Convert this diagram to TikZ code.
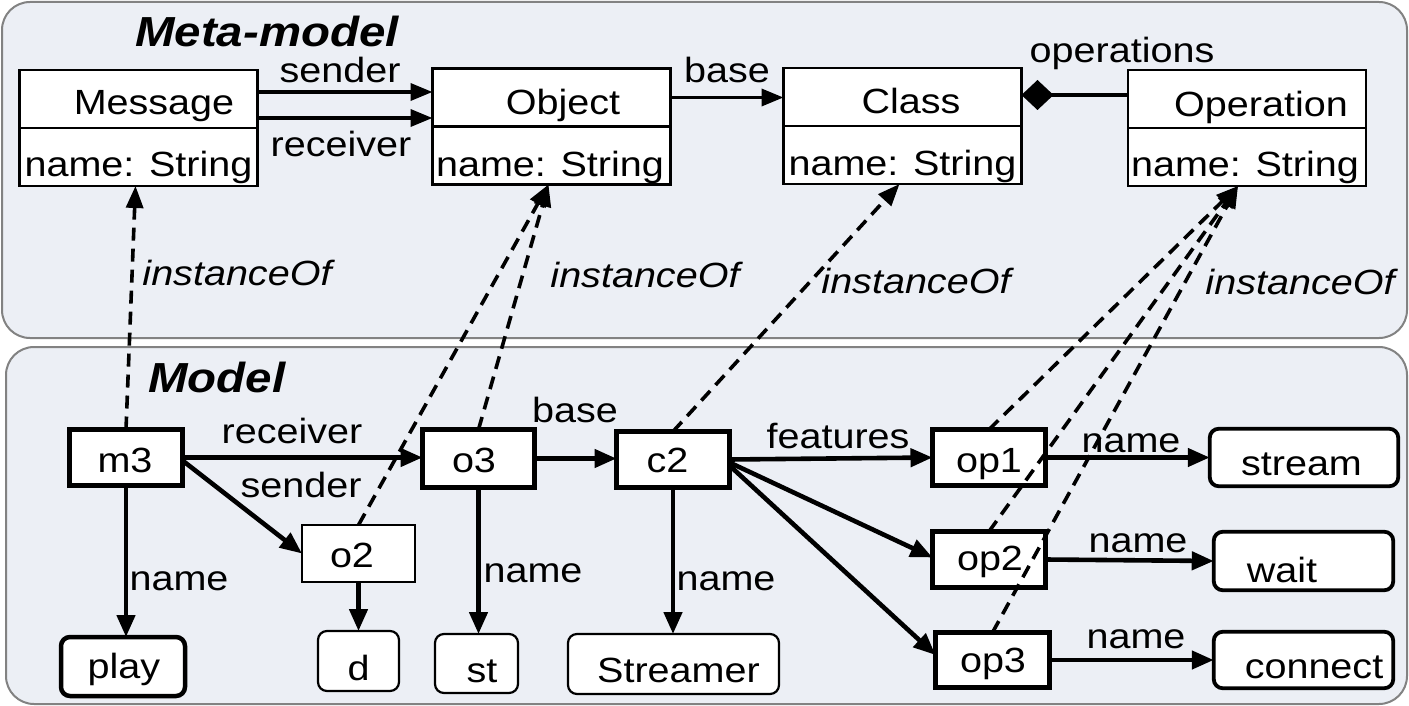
\documentclass[tikz,border=0pt]{standalone}
\usepackage{fontspec}
\setmainfont[FakeStretch=1.13]{Liberation Sans}
\usetikzlibrary{arrows.meta}
\definecolor{panel}{RGB}{236,239,245}
\definecolor{panelborder}{RGB}{130,130,130}
\newcommand\tb[3]{\makebox[0pt][c]{\hspace{#1pt}\hspace{#1pt}\raisebox{-#2pt}{#3}}}
\begin{document}
\begin{tikzpicture}[x=1pt,y=-1pt,
  every node/.style={font=\fontsize{35}{42}\selectfont, inner sep=0pt, outer sep=0pt},
  panelbox/.style={draw=panelborder, fill=panel, line width=2pt, rounded corners=28pt},
  umlpart/.style={draw=black, fill=white, line width=2.2pt, minimum width=238pt, minimum height=58pt, text height=25pt, text depth=0pt},
  objbox/.style={draw=black, fill=white, line width=5.5pt, minimum width=113pt, minimum height=56pt, text height=25pt, text depth=0pt},
  thinbox/.style={draw=black, fill=white, line width=2.2pt, text height=25pt, text depth=0pt},
  valbox/.style={draw=black, fill=white, rounded corners=9pt, text height=25pt, text depth=0pt},
  metaarrow/.style={line width=3.6pt, -{Triangle[length=22pt,width=17pt]}},
  modelarrow/.style={line width=4.6pt, -{Triangle[length=22pt,width=18pt]}},
  inst/.style={line width=3.6pt, dash pattern=on 13pt off 8pt, -{Triangle[length=22pt,width=17pt]}},
  lbl/.style={anchor=base},
  ilbl/.style={anchor=base, font=\fontsize{35}{42}\selectfont\itshape},
  titlelbl/.style={anchor=base, font=\fontsize{42}{50}\selectfont\bfseries\itshape}
]
\useasboundingbox (0,0) rectangle (1409,706);
% panels
\path[panelbox] (2,2) rectangle (1407,338);
\path[panelbox] (6,347) rectangle (1407,704);

% ---------- Meta-model ----------
\node[titlelbl] (tmeta) at (267,47) {Meta-model};

\node[umlpart] (msg) at (138.5,99) {\tb{15.5}{3.5}{Message}};
\node[umlpart, anchor=north] (msga) at (msg.south) {\tb{0}{7}{name: String}};

\node[umlpart] (obj) at (551.5,97.5) {\tb{11.5}{5}{Object}};
\node[umlpart, anchor=north] (obja) at (obj.south) {\tb{-1.5}{8.5}{name: String}};

\node[umlpart] (cls) at (902.5,97) {\tb{8.5}{4}{Class}};
\node[umlpart, anchor=north] (clsa) at (cls.south) {\tb{0}{8}{name: String}};

\node[umlpart] (op) at (1247,99) {\tb{14}{5.5}{Operation}};
\node[umlpart, anchor=north] (opa) at (op.south) {\tb{-2}{7}{name: String}};

\draw[metaarrow] ([yshift=7pt]msg.east) -- ([yshift=7pt]msg.east -| obj.west);
\draw[metaarrow] ([yshift=-19pt]msg.east) -- ([yshift=-19pt]msg.east -| obj.west);
\draw[metaarrow] (obj.east) -- (obj.east -| cls.west);
\draw[line width=3.6pt, -{Diamond[length=32pt,width=30pt]}] ([yshift=4pt]op.west) -- ([yshift=4pt]op.west -| cls.east);

\node[lbl] (lsender) at (340,83) {sender};
\node[lbl] (lreceiver) at (341,157) {receiver};
\node[lbl] (lbase) at (727,83) {base};
\node[lbl] (lops) at (1122,63) {operations};

\node[ilbl] (i1) at (237,285) {instanceOf};
\node[ilbl] (i2) at (645,287) {instanceOf};
\node[ilbl] (i3) at (916,293) {instanceOf};
\node[ilbl] (i4) at (1300,294) {instanceOf};

% ---------- Model ----------
\node[titlelbl] (tmodel) at (217,392) {Model};

\node[objbox] (m3) at (126,457.5) {\tb{-1}{2}{m3}};
\node[objbox, minimum width=112pt, minimum height=58pt] (o3) at (478.5,458.5) {\tb{-4.5}{1}{o3}};
\node[objbox] (c2) at (673,459.5) {\tb{-5.5}{0}{c2}};
\node[objbox] (op1) at (989,457.5) {\tb{0}{2}{op1}};
\node[objbox] (op2) at (989,559.5) {\tb{1}{-2}{op2}};
\node[objbox, minimum width=114pt, minimum height=55pt] (op3) at (992.5,660) {\tb{0.5}{0}{op3}};
\node[thinbox, minimum width=113pt, minimum height=57pt] (o2) at (358.5,553.5) {\tb{-6.5}{1}{o2}};

\node[valbox, line width=4.5pt, minimum width=124pt, minimum height=59pt] (play) at (123,666.5) {\tb{1}{-1}{play}};
\node[valbox, line width=2.2pt, minimum width=81pt, minimum height=60pt] (d) at (358.5,661) {\tb{0}{6.5}{d}};
\node[valbox, line width=2.2pt, minimum width=83pt, minimum height=59pt] (st) at (476.5,663.5) {\tb{5.5}{6}{st}};
\node[valbox, line width=2.2pt, minimum width=211pt, minimum height=60pt] (strm) at (673.5,664) {\tb{5}{5.5}{Streamer}};
\node[valbox, line width=3.8pt, minimum width=188.5pt, minimum height=57.5pt] (stream) at (1304,457.5) {\tb{-2.5}{5}{stream}};
\node[valbox, line width=3.8pt, minimum width=179.5pt, minimum height=58.5pt] (wait) at (1303.5,561) {\tb{-21.5}{8.5}{wait}};
\node[valbox, line width=3.8pt, minimum width=179.5pt, minimum height=56.5pt] (connect) at (1303.5,660) {\tb{10.5}{5.5}{connect}};

\draw[modelarrow] (m3.east) -- (m3.east -| o3.west);
\draw[modelarrow] ([yshift=-3pt]m3.east) -- (o2.west);
\draw[modelarrow] (m3.south) -- (m3.south |- play.north);
\draw[modelarrow] (o2.south) -- (o2.south |- d.north);
\draw[modelarrow] (o3.south) -- (o3.south |- st.north);
\draw[modelarrow] (o3.east) -- (o3.east -| c2.west);
\draw[modelarrow] (c2.south) -- (c2.south |- strm.north);
\draw[modelarrow] (c2.east) -- (op1.west);
\draw[modelarrow] ([yshift=-3pt]c2.east) -- ([yshift=2pt]op2.west);
\draw[modelarrow] ([yshift=-6pt]c2.east) -- ([yshift=5pt]op3.west);
\draw[modelarrow] (op1.east) -- (stream.west);
\draw[modelarrow] (op2.east) -- (wait.west);
\draw[modelarrow] (op3.east) -- (connect.west);

\node[lbl] (lmrecv) at (292,443) {receiver};
\node[lbl] (lmsend) at (301,497) {sender};
\node[lbl] (lmname1) at (179,590) {name};
\node[lbl] (lmbase) at (575,422) {base};
\node[lbl] (lmname2) at (533,582) {name};
\node[lbl] (lmname3) at (726,590) {name};
\node[lbl] (lmfeat) at (838,448) {features};
\node[lbl] (lmname4) at (1131,452) {name};
\node[lbl] (lmname5) at (1138,552) {name};
\node[lbl] (lmname6) at (1136,648) {name};

% ---------- instanceOf ----------
\draw[inst] (m3.north) -- ([xshift=-3pt]msga.south);
\draw[inst] (o2.north) -- ([xshift=-3pt]obja.south);
\draw[inst] (o3.north) -- ([xshift=-3pt]obja.south);
\draw[inst] (c2.north) -- ([xshift=-3pt]clsa.south);
\draw[inst] (op1.north) -- ([xshift=-9pt]opa.south);
\draw[inst] (op2.north) -- ([xshift=-9pt]opa.south);
\draw[inst] (op3.north) -- ([xshift=-9pt]opa.south);
\end{tikzpicture}
\end{document}
